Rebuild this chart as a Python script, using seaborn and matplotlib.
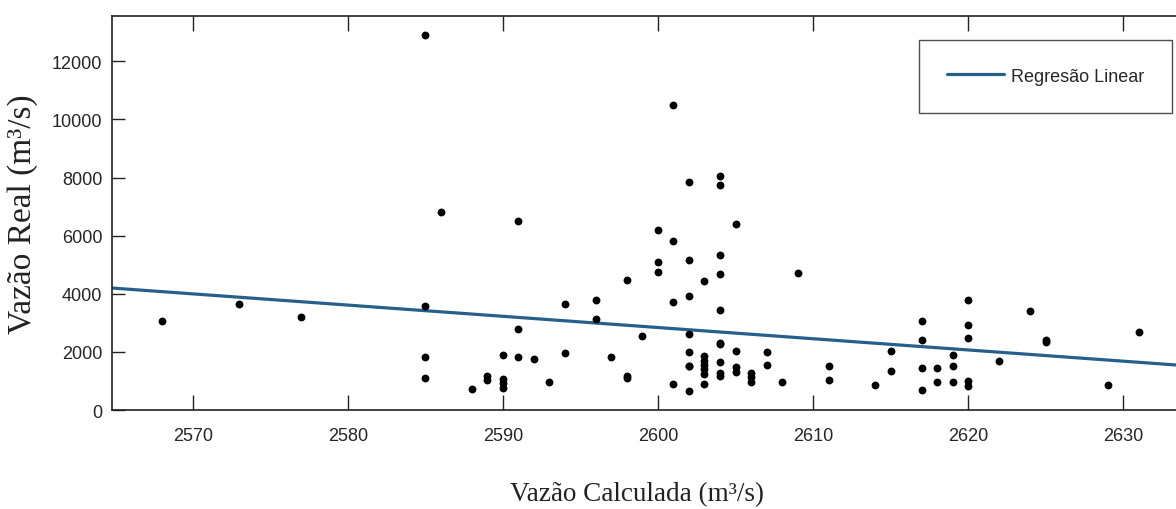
import matplotlib
matplotlib.use("Agg")
import matplotlib.pyplot as plt
import seaborn as sns
import pandas as pd
from matplotlib import font_manager

# ---- data ----
vazao_calculada = [
    2568, 2573, 2577,
    2585, 2585, 2585, 2585, 2586,
    2588, 2589, 2589, 2590, 2590, 2590, 2590,
    2591, 2591, 2591, 2592, 2593, 2594, 2594,
    2596, 2596, 2597, 2598, 2598, 2598, 2599,
    2600, 2600, 2600,
    2601, 2601, 2601, 2601,
    2602, 2602, 2602, 2602, 2602, 2602, 2602, 2602,
    2603, 2603, 2603, 2603, 2603, 2603, 2603,
    2604, 2604, 2604, 2604, 2604, 2604, 2604, 2604, 2604, 2604,
    2605, 2605, 2605, 2605,
    2606, 2606, 2606, 2607, 2607, 2608, 2609,
    2611, 2611, 2614, 2615, 2615,
    2617, 2617, 2617, 2617, 2618, 2618,
    2619, 2619, 2619,
    2620, 2620, 2620, 2620, 2620,
    2622, 2624, 2625, 2625, 2629, 2631,
]
vazao_real = [
    3050, 3640, 3190,
    12900, 3590, 1810, 1100, 6800,
    720, 1180, 1030, 1900, 1070, 920, 760,
    6500, 2800, 1810, 1755, 980, 3650, 1960,
    3780, 3130, 1820, 4480, 1180, 1100, 2540,
    6200, 5080, 4760,
    10500, 5800, 3720, 910,
    7840, 5150, 3920, 2615, 2000, 1525, 640, 1500,
    4430, 1850, 1700, 1550, 1400, 1250, 900,
    8060, 7750, 5340, 4680, 3450, 2290, 1640, 1270, 1170, 2270,
    6390, 2020, 1470, 1300,
    1290, 1120, 950, 1980, 1560, 980, 4700,
    1500, 1040, 860, 2020, 1350,
    3070, 2420, 1435, 700, 1435, 975,
    1900, 1500, 975,
    3785, 2925, 2480, 1000, 840,
    1700, 3400, 2420, 2330, 860, 2670,
]
# regression line end points
reg_x = [2564.8, 2633.4]
reg_y = [4198, 1549]

x_ticks = [2570, 2580, 2590, 2600, 2610, 2620, 2630]
y_ticks = [0, 2000, 4000, 6000, 8000, 10000, 12000]

x_label = "Vazão Calculada (m³/s)"
y_label = "Vazão Real (m³/s)"
legend_label = "Regresão Linear"

# ---- style ----
sns.set_theme(style="white")
names = {f.name for f in font_manager.fontManager.ttflist}
tick_family = ["Liberation Sans Narrow", "DejaVu Sans"] if "Liberation Sans Narrow" in names else ["Liberation Sans", "DejaVu Sans"]
label_family = ["Liberation Serif", "DejaVu Serif"]
plt.rcParams["font.family"] = tick_family

fig = plt.figure(figsize=(11.76, 5.10), dpi=100)
W, H = 1176, 510
ax = fig.add_axes([112 / W, 1 - 411 / H, (1176 - 112) / W, (411 - 17) / H])

df = pd.DataFrame({"calc": vazao_calculada, "real": vazao_real})
sns.scatterplot(data=df, x="calc", y="real", ax=ax, color="black", s=32,
                edgecolor="black", linewidth=0, legend=False, zorder=3)

reg = pd.DataFrame({"x": reg_x, "y": reg_y})
sns.lineplot(data=reg, x="x", y="y", ax=ax, color="#26608a", linewidth=2.3,
             label=legend_label, zorder=2)

ax.set_xlim(2564.8, 2633.4)
ax.set_ylim(0, 13560)
ax.set_xticks(x_ticks)
ax.set_yticks(y_ticks)
ax.set_xticklabels([str(v) for v in x_ticks])
ax.set_yticklabels([str(v) for v in y_ticks])

for side in ["top", "bottom", "left"]:
    ax.spines[side].set_visible(True)
    ax.spines[side].set_color("#222222")
    ax.spines[side].set_linewidth(1.2)
ax.spines["right"].set_visible(False)

ax.tick_params(axis="x", direction="in", length=11, width=1, color="#222222",
               top=True, bottom=True, labelsize=13, pad=12, labelcolor="#262626")
ax.tick_params(axis="y", direction="in", length=9, width=1, color="#222222",
               left=True, right=False, labelsize=13, pad=7, labelcolor="#262626")

ax.set_xlabel(x_label, family=label_family, fontsize=19.5, color="#222222")
ax.set_ylabel(y_label, family=label_family, fontsize=24, color="#222222")
ax.xaxis.set_label_coords(0.493, -0.18)
ax.yaxis.set_label_coords(-0.0695, 0.5)

leg = ax.legend(loc="upper right", bbox_to_anchor=(1172 / W, 1 - 40.7 / H),
                bbox_transform=fig.transFigure, frameon=True, fancybox=False,
                edgecolor="#222222", fontsize=13, borderpad=1.55,
                handlelength=3.2, handletextpad=0.35, borderaxespad=0)
leg.get_frame().set_linewidth(1.0)
for t in leg.get_texts():
    t.set_color("#262626")

fig.savefig("out.png", dpi=100)
